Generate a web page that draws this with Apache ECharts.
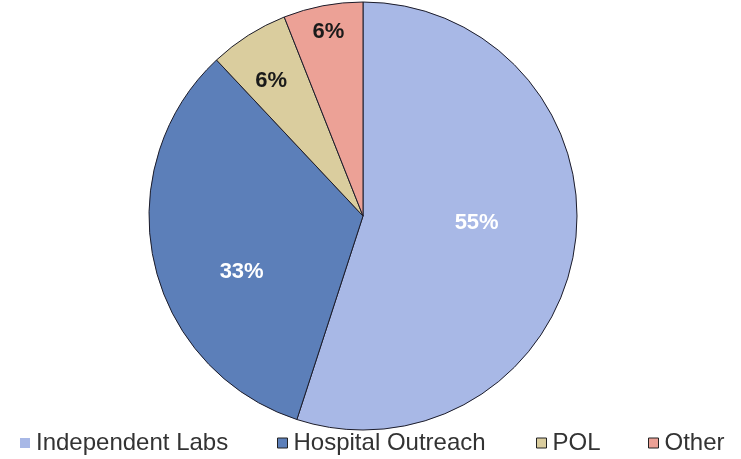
<!DOCTYPE html>
<html>
<head>
<meta charset="utf-8">
<script src="https://cdn.jsdelivr.net/npm/echarts@6/dist/echarts.min.js"></script>
<style>html,body{margin:0;padding:0;background:#fff;}#c{width:741px;height:459px;}</style>
</head>
<body>
<div id="c"></div>
<script>
const categories = ['Independent Labs', 'Hospital Outreach', 'POL', 'Other'];
const values = [55, 33, 6, 6];
const colors = ['#a8b8e6', '#5c7fb9', '#dacd9e', '#eca196'];
const labelColors = ['#ffffff', '#ffffff', '#1a1a1a', '#1a1a1a'];
const labelOffsets = [[5, -10], [-14, 32], [-33, -42], [-14, -76]];
const legendLefts = [20, 277, 536, 648];

const chart = echarts.init(document.getElementById('c'), null, {renderer: 'canvas'});
chart.setOption({
  animation: false,
  backgroundColor: '#ffffff',
  legend: categories.map((c, i) => ({
    left: legendLefts[i],
    top: 431,
    itemWidth: 10,
    itemHeight: 10,
    icon: 'rect',
    padding: 0,
    textStyle: {fontFamily: 'Liberation Sans, Arial, sans-serif', fontSize: 24, color: '#333333', padding: [0, 0, 0, 1]},
    data: [{
      name: c,
      itemStyle: i === 0 ? {borderWidth: 0} : {borderColor: '#222', borderWidth: 1}
    }]
  })),
  series: [{
    type: 'pie',
    center: [363, 216],
    radius: 214,
    startAngle: 90,
    clockwise: true,
    avoidLabelOverlap: false,
    itemStyle: {borderColor: '#1c1c2a', borderWidth: 1},
    label: {
      show: true,
      position: 'inside',
      formatter: '{c}%',
      fontFamily: 'Liberation Sans, Arial, sans-serif',
      fontSize: 22,
      fontWeight: 'bold'
    },
    labelLine: {show: false},
    emphasis: {disabled: true},
    data: categories.map((c, i) => ({
      name: c,
      value: values[i],
      itemStyle: {color: colors[i]},
      label: {color: labelColors[i], offset: labelOffsets[i]}
    }))
  }]
});
</script>
</body>
</html>
